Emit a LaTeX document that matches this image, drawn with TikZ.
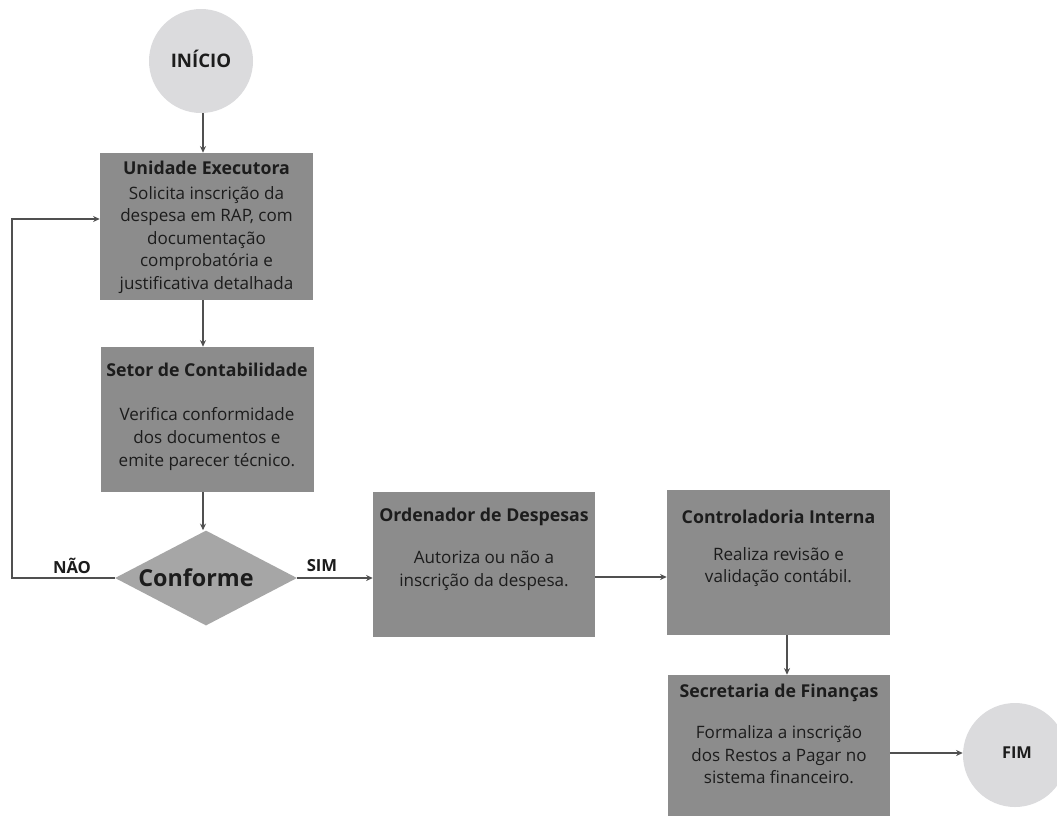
\documentclass[tikz,border=0pt]{standalone}
\usepackage{fontspec}
\setmainfont{Open Sans}
\usetikzlibrary{shapes.geometric,arrows.meta}
\definecolor{boxgray}{HTML}{8C8C8C}
\definecolor{diagray}{HTML}{A6A6A6}
\definecolor{circgray}{HTML}{DBDBDD}
\definecolor{linegray}{HTML}{505050}
\definecolor{txt}{HTML}{1C1C1C}
\tikzset{
  stepbox/.style={rectangle, fill=boxgray, draw=none, inner sep=0pt},
  ttl/.style={font=\bfseries\fontsize{13.3}{15}\selectfont, text=txt, inner sep=0pt},
  bdy/.style={font=\fontsize{12.8}{16.9}\selectfont, text=txt, align=center, inner sep=0pt},
  term/.style={circle, fill=circgray, draw=none, inner sep=0pt},
  decision/.style={diamond, fill=diagray, draw=none, inner sep=0pt},
  lbl/.style={font=\bfseries\fontsize{12.5}{15}\selectfont, text=txt, inner sep=0pt},
  arr/.style={draw=linegray, line width=0.8pt, -{Stealth[length=5pt,width=4.5pt]}},
}
\begin{document}
\begin{tikzpicture}[x=0.75pt,y=-0.75pt]
\useasboundingbox (0,0) rectangle (1057,815);
\clip (0,0) rectangle (1057,815);
\fill[white] (0,0) rectangle (1057,815);

% terminals
\node[term, minimum size=78pt] (ini) at (201,61) {};
\node[lbl, font=\bfseries\fontsize{14}{16}\selectfont] at (201,59) {INÍCIO};
\node[term, minimum size=78pt] (fim) at (1015,755) {};
\node[lbl, font=\bfseries\fontsize{12.3}{14}\selectfont] at (1017,753) {FIM};

% boxes
\node[stepbox, minimum width=159.75pt, minimum height=110.25pt] (ue) at (206.5,226.5) {};
\node[ttl] at (206.5,168) {Unidade Executora};
\node[bdy] at (206.5,240) {Solicita inscrição da\\despesa em RAP, com\\documentação\\comprobatória e\\justificativa detalhada};

\node[stepbox, minimum width=159.75pt, minimum height=108.75pt] (sc) at (207,419.5) {};
\node[ttl] at (207,370) {Setor de Contabilidade};
\node[bdy] at (207,439) {Verifica conformidade\\dos documentos e\\emite parecer técnico.};

\node[decision, minimum width=136.5pt, minimum height=71.25pt] (conf) at (206,578) {};
\node[lbl, font=\bfseries\fontsize{17.5}{20}\selectfont] at (196,578) {Conforme};

\node[stepbox, minimum width=166.5pt, minimum height=108.75pt] (od) at (484,564.5) {};
\node[ttl] at (484,517) {Ordenador de Despesas};
\node[bdy] at (484,571) {Autoriza ou não a\\inscrição da despesa.};

\node[stepbox, minimum width=167.25pt, minimum height=108.75pt] (ci) at (778.5,562.5) {};
\node[ttl] at (778.5,517) {Controladoria Interna};
\node[bdy] at (778.5,567) {Realiza revisão e\\validação contábil.};

\node[stepbox, minimum width=166.5pt, minimum height=112.5pt] (sf) at (779,750) {};
\node[ttl] at (779,693) {Secretaria de Finanças};
\node[bdy] at (779,755) {Formaliza a inscrição\\dos Restos a Pagar no\\sistema financeiro.};

% labels
\node[lbl] (nao) at (72,566) {NÃO};
\node[lbl] (sim) at (322,566) {SIM};

% connectors
\coordinate (loop) at (12,219);
\draw[arr] (ini.south -| 203,0) -- (ue.north -| 203,0);
\draw[arr] (ue.south -| 203,0) -- (sc.north -| 203,0);
\draw[arr] (sc.south -| 203,0) -- (conf.north -| 203,0);
\draw[arr] (conf.west) -| (loop) -- (loop -| ue.west);
\draw[arr] (conf.east) -- (conf.east -| od.west);
\draw[arr] (od.east |- 0,577) -- (ci.west |- 0,577);
\draw[arr] (ci.south -| 787,0) -- (sf.north -| 787,0);
\draw[arr] (sf.east |- 0,753) -- (fim.west |- 0,753);
\end{tikzpicture}
\end{document}
